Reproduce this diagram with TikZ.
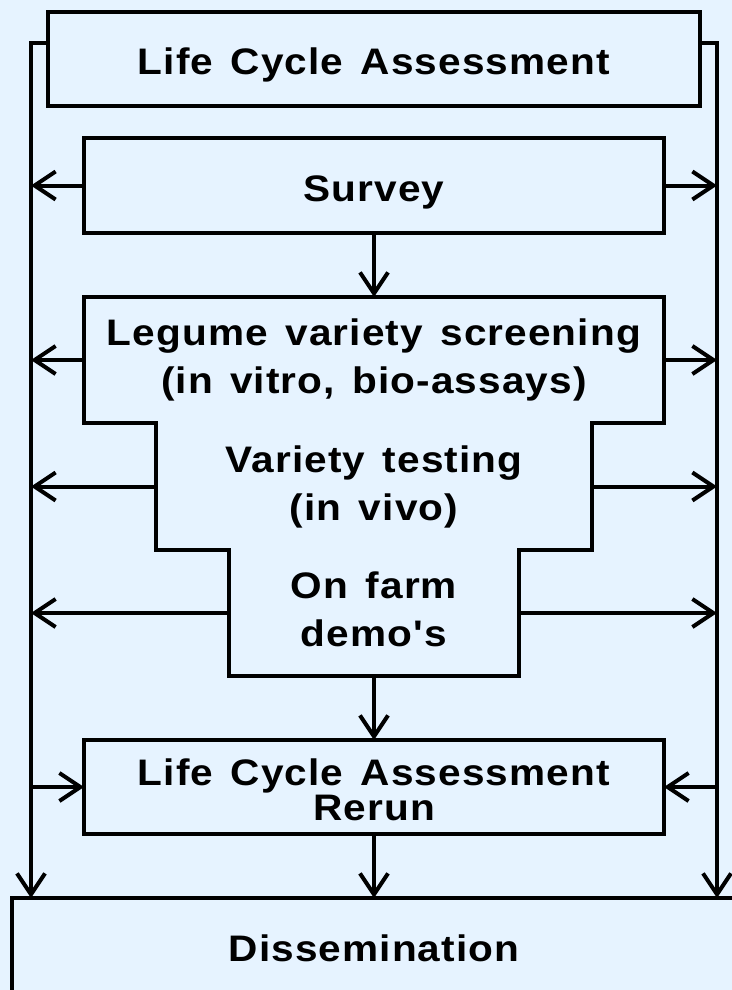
\documentclass[tikz,border=0pt]{standalone}
\usepackage{fontspec}
\newfontfamily\boxfont{Liberation Sans}[FakeStretch=1.1, LetterSpace=3.0, WordSpace=1.4]
\usetikzlibrary{positioning,arrows.meta}
\definecolor{bgblue}{RGB}{230,243,255}

\tikzset{
  box/.style={draw, line width=0.08cm, outer sep=0pt, inner sep=0pt,
    minimum width=11.6cm, minimum height=1.9cm, align=center,
    font={\boxfont\bfseries\fontsize{21pt}{27.3pt}\selectfont}},
  oneline/.style={text height=0.62cm, text depth=0pt},
  stair/.style={outer sep=0pt, inner sep=0pt, align=center,
    font={\boxfont\bfseries\fontsize{21pt}{27.3pt}\selectfont}},
  ln/.style={line width=0.08cm},
  arr/.style={line width=0.08cm, -{Straight Barb[length=0.42cm,width=0.56cm]}}
}

\begin{document}
\begin{tikzpicture}
        \fill[bgblue] (0,0) rectangle (14.64,-19.8);
        \useasboundingbox (0,0) rectangle (14.64,-19.8);

        \node[box, oneline, minimum width=13.04cm, minimum height=1.88cm] (lca) at (7.48,-1.18) {Life Cycle Assessment};
        \node[box, oneline, below=0.64cm of lca] (srv) {Survey};
        \node[stair, minimum width=11.6cm, minimum height=2.52cm, below=1.28cm of srv] (scr) {\strut Legume variety screening\\\strut(in vitro, bio-assays)};
        \node[stair, minimum width=8.72cm, minimum height=2.54cm, below=0cm of scr] (tst) {\strut Variety testing\\\strut(in vivo)};
        \node[stair, minimum width=5.8cm, minimum height=2.52cm, below=0cm of tst] (dem) {\strut On farm\\\strut demo's};
        \node[box, minimum height=1.88cm, below=1.28cm of dem,
          font={\boxfont\bfseries\fontsize{21pt}{18.5pt}\selectfont}] (rer) {\rule{0pt}{18.3pt}Life Cycle Assessment\\Rerun};
        \node[box, minimum width=14.48cm, minimum height=2cm, below=1.28cm of rer] (dis) {Dissemination};

        % 阶梯形外框
        \draw[ln] (scr.north west) -- (scr.north east) -- (scr.south east) -- (tst.north east)
        -- (tst.south east) -- (dem.north east) -- (dem.south east) -- (dem.south west)
        -- (dem.north west) -- (tst.south west) -- (tst.north west) -- (scr.south west) -- cycle;

        \coordinate (l0) at ([yshift=-0.62cm]lca.north west);
        \coordinate (r0) at ([yshift=-0.62cm]lca.north east);
        \coordinate (l1) at (0.62,0);       %左侧竖线的位置
        \coordinate (r1) at (14.34,0);      %右侧竖线的位置
        \draw[arr] (l0) -| (dis.north -| l1);
        \draw[arr] (r0) -| (dis.north -| r1);

        \draw[arr] (srv.west) -- (srv.west -| l1);
        \draw[arr] (srv.east) -- (srv.east -| r1);
        \draw[arr] (scr.west) -- (scr.west -| l1);
        \draw[arr] (scr.east) -- (scr.east -| r1);
        \draw[arr] (tst.west) -- (tst.west -| l1);
        \draw[arr] (tst.east) -- (tst.east -| r1);
        \draw[arr] (dem.west) -- (dem.west -| l1);
        \draw[arr] (dem.east) -- (dem.east -| r1);
        \draw[arr] (rer.west -| l1) -- (rer.west);
        \draw[arr] (rer.east -| r1) -- (rer.east);

        \draw[arr] (srv) -- (scr);
        \draw[arr] (dem) -- (rer);
        \draw[arr] (rer) -- (dis);
\end{tikzpicture}
\end{document}
